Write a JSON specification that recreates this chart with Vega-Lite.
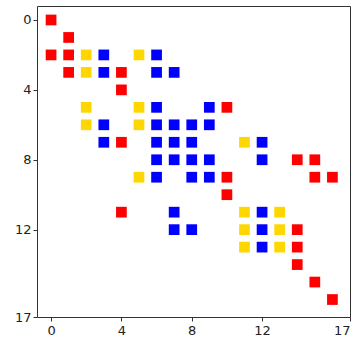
{
  "$schema": "https://vega.github.io/schema/vega-lite/v6.json",
  "width": 313,
  "height": 311,
  "autosize": {"type": "none"},
  "padding": {"left": 37, "top": 6, "right": 7, "bottom": 26},
  "background": "white",
  "config": {
    "view": {"stroke": "#333", "strokeWidth": 1},
    "axis": {
      "domain": false,
      "grid": false,
      "ticks": true,
      "tickColor": "#333",
      "tickSize": 4,
      "labelFont": "DejaVu Sans",
      "labelFontSize": 13,
      "labelColor": "#222",
      "title": null
    }
  },
  "data": {
    "values": [
      {"row": 0, "col": 0, "c": "red"},
      {"row": 1, "col": 1, "c": "red"},
      {"row": 2, "col": 0, "c": "red"},
      {"row": 2, "col": 1, "c": "red"},
      {"row": 2, "col": 2, "c": "yellow"},
      {"row": 2, "col": 3, "c": "blue"},
      {"row": 2, "col": 5, "c": "yellow"},
      {"row": 2, "col": 6, "c": "blue"},
      {"row": 3, "col": 1, "c": "red"},
      {"row": 3, "col": 2, "c": "yellow"},
      {"row": 3, "col": 3, "c": "blue"},
      {"row": 3, "col": 4, "c": "red"},
      {"row": 3, "col": 6, "c": "blue"},
      {"row": 3, "col": 7, "c": "blue"},
      {"row": 4, "col": 4, "c": "red"},
      {"row": 5, "col": 2, "c": "yellow"},
      {"row": 5, "col": 5, "c": "yellow"},
      {"row": 5, "col": 6, "c": "blue"},
      {"row": 5, "col": 9, "c": "blue"},
      {"row": 5, "col": 10, "c": "red"},
      {"row": 6, "col": 2, "c": "yellow"},
      {"row": 6, "col": 3, "c": "blue"},
      {"row": 6, "col": 5, "c": "yellow"},
      {"row": 6, "col": 6, "c": "blue"},
      {"row": 6, "col": 7, "c": "blue"},
      {"row": 6, "col": 8, "c": "blue"},
      {"row": 6, "col": 9, "c": "blue"},
      {"row": 7, "col": 3, "c": "blue"},
      {"row": 7, "col": 4, "c": "red"},
      {"row": 7, "col": 6, "c": "blue"},
      {"row": 7, "col": 7, "c": "blue"},
      {"row": 7, "col": 8, "c": "blue"},
      {"row": 7, "col": 11, "c": "yellow"},
      {"row": 7, "col": 12, "c": "blue"},
      {"row": 8, "col": 6, "c": "blue"},
      {"row": 8, "col": 7, "c": "blue"},
      {"row": 8, "col": 8, "c": "blue"},
      {"row": 8, "col": 9, "c": "blue"},
      {"row": 8, "col": 12, "c": "blue"},
      {"row": 8, "col": 14, "c": "red"},
      {"row": 8, "col": 15, "c": "red"},
      {"row": 9, "col": 5, "c": "yellow"},
      {"row": 9, "col": 6, "c": "blue"},
      {"row": 9, "col": 8, "c": "blue"},
      {"row": 9, "col": 9, "c": "blue"},
      {"row": 9, "col": 10, "c": "red"},
      {"row": 9, "col": 15, "c": "red"},
      {"row": 9, "col": 16, "c": "red"},
      {"row": 10, "col": 10, "c": "red"},
      {"row": 11, "col": 4, "c": "red"},
      {"row": 11, "col": 7, "c": "blue"},
      {"row": 11, "col": 11, "c": "yellow"},
      {"row": 11, "col": 12, "c": "blue"},
      {"row": 11, "col": 13, "c": "yellow"},
      {"row": 12, "col": 7, "c": "blue"},
      {"row": 12, "col": 8, "c": "blue"},
      {"row": 12, "col": 11, "c": "yellow"},
      {"row": 12, "col": 12, "c": "blue"},
      {"row": 12, "col": 13, "c": "yellow"},
      {"row": 12, "col": 14, "c": "red"},
      {"row": 13, "col": 11, "c": "yellow"},
      {"row": 13, "col": 12, "c": "blue"},
      {"row": 13, "col": 13, "c": "yellow"},
      {"row": 13, "col": 14, "c": "red"},
      {"row": 14, "col": 14, "c": "red"},
      {"row": 15, "col": 15, "c": "red"},
      {"row": 16, "col": 16, "c": "red"}
    ]
  },
  "mark": {"type": "point", "shape": "square", "filled": true, "size": 115, "opacity": 1},
  "encoding": {
    "x": {
      "field": "col", "type": "quantitative",
      "scale": {"domain": [-0.8, 17], "nice": false, "zero": false},
      "axis": {"values": [0, 4, 8, 12, 17], "labelPadding": 3, "format": "d"}
    },
    "y": {
      "field": "row", "type": "quantitative",
      "scale": {"domain": [-0.8, 17], "nice": false, "zero": false, "reverse": true},
      "axis": {"values": [0, 4, 8, 12, 17], "labelPadding": 2, "format": "d"}
    },
    "color": {
      "field": "c", "type": "nominal",
      "scale": {"domain": ["red", "yellow", "blue"], "range": ["#FF0000", "#FFD700", "#0000FF"]},
      "legend": null
    }
  }
}
